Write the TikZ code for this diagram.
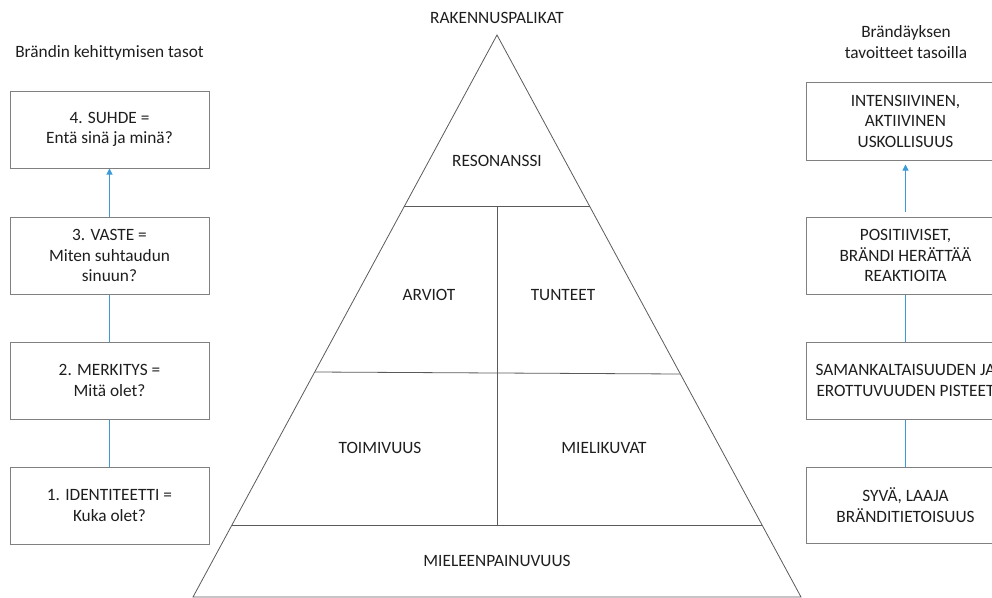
\documentclass[tikz,border=0pt]{standalone}
\usepackage{fontspec}
\setmainfont{Carlito}[Ligatures=CommonOff]
\usetikzlibrary{arrows.meta}
\definecolor{boxgray}{RGB}{128,128,128}
\definecolor{pyrgray}{RGB}{90,90,90}
\definecolor{linkblue}{RGB}{60,155,215}
\definecolor{txt}{RGB}{30,30,30}

\begin{document}
\begin{tikzpicture}[x=1pt,y=-1pt,
  every node/.style={font=\fontsize{17.3}{20.5}\selectfont, text=txt, align=center},
  level/.style={draw=boxgray, line width=1pt, minimum width=199pt, minimum height=77pt, inner sep=0pt},
  pyr/.style={draw=pyrgray, line width=0.8pt},
  link/.style={draw=linkblue, line width=1pt},
  linkarrow/.style={link, -{Triangle[width=6pt,length=6pt]}}]
  \clip (0,0) rectangle (992,597);

  % left column: levels of brand development
  \node (lefttitle) at (109.5,53) {Brändin kehittymisen tasot};
  \node[level] (rel) at (109.5,129.5) {4. SUHDE =\\Entä sinä ja minä?};
  \node[level] (resp) at (109.5,255.5) {3. VASTE =\\Miten suhtaudun\\sinuun?};
  \node[level] (mean) at (109.5,380.5) {2. MERKITYS =\\Mitä olet?};
  \node[level] (ident) at (109.5,505.5) {1. IDENTITEETTI =\\Kuka olet?};
  \draw[link] (ident.north) -- (mean.south);
  \draw[link] (mean.north) -- (resp.south);
  \draw[linkarrow] (resp.north) -- (rel.south);

  % pyramid
  \coordinate (apex) at (497,35);
  \coordinate (baseL) at (193,597);
  \coordinate (baseR) at (801,597);
  \draw[pyr] (apex) -- (baseL) -- (baseR) -- cycle;
  \draw[pyr] (404,206) -- (590,206);
  \draw[pyr] (315,372) -- (680,374);
  \draw[pyr] (232,525) -- (762,525);
  \draw[pyr] (497,206) -- (497,525);
  \node (pyrtitle) at (497,18) {RAKENNUSPALIKAT};
  \node (reso) at (497,161) {RESONANSSI};
  \node (judg) at (429,295) {ARVIOT};
  \node (feel) at (563,295) {TUNTEET};
  \node (perf) at (380,448) {TOIMIVUUS};
  \node (imag) at (604,448) {MIELIKUVAT};
  \node (sali) at (497,561) {MIELEENPAINUVUUS};

  % right column: branding goals per level
  \node (righttitle) at (906,42) {Brändäyksen\\tavoitteet tasoilla};
  \node[level, minimum height=78pt] (loyal) at (905.5,121) {INTENSIIVINEN,\\AKTIIVINEN\\USKOLLISUUS};
  \node[level] (react) at (905.5,255.5) {POSITIIVISET,\\BRÄNDI HERÄTTÄÄ\\REAKTIOITA};
  \node[level] (points) at (905.5,380.5) {SAMANKALTAISUUDEN JA\\EROTTUVUUDEN PISTEET};
  \node[level, minimum height=76pt] (aware) at (905.5,505) {SYVÄ, LAAJA\\BRÄNDITIETOISUUS};
  \draw[link] (aware.north) -- (points.south);
  \draw[link] (points.north) -- (react.south);
  \draw[linkarrow, shorten <=5pt, shorten >=4pt] (react.north) -- (loyal.south);
\end{tikzpicture}
\end{document}
